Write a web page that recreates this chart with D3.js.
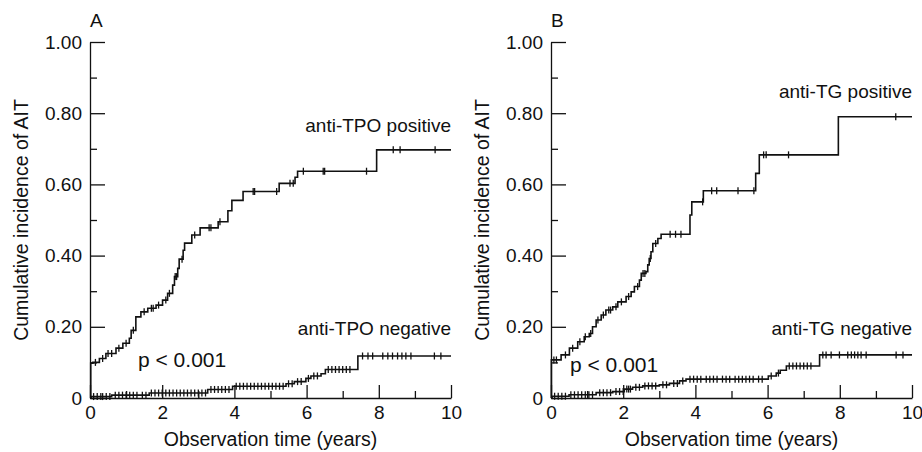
<!DOCTYPE html>
<html>
<head>
<meta charset="utf-8">
<style>
    body { margin: 0; background: #fff; }
    text { font-family: "Liberation Sans", Arial, sans-serif; fill: #111; }
    .axis .domain, .axis line { stroke: #111; stroke-width: 1.3; }
</style>
</head>
<body>
<svg width="922" height="452"></svg>
<script src="https://d3js.org/d3.v7.min.js"></script>
<script>
// ---- data ----
var yTicks = [0, 0.2, 0.4, 0.6, 0.8, 1.0];
var yTickLabels = ["0", "0.20", "0.40", "0.60", "0.80", "1.00"];
var yMinor = [0.1, 0.3, 0.5, 0.7, 0.9];
var xTicks = [0, 2, 4, 6, 8, 10];
var xMinor = [1, 3, 5, 7, 9];

// panel A: anti-TPO
var tpoPosT = [0, 0.02, 0.08, 0.26, 0.44, 0.72, 0.91, 1.09, 1.14, 1.27, 1.41, 1.60, 1.83, 2.01, 2.15, 2.29, 2.34, 2.43, 2.47, 2.58, 2.62, 2.82, 3.05, 3.55, 3.82, 3.93, 4.24, 5.24, 5.68, 5.75, 7.94, 10];
var tpoPosS = [0, 0.098, 0.10, 0.111, 0.125, 0.14, 0.154, 0.168, 0.19, 0.228, 0.242, 0.252, 0.261, 0.275, 0.294, 0.317, 0.341, 0.364, 0.39, 0.415, 0.435, 0.458, 0.478, 0.495, 0.526, 0.555, 0.58, 0.603, 0.62, 0.637, 0.697, 0.697];
var tpoPosCens = [0.15, 0.35, 0.5, 0.6, 0.8, 1.0, 1.2, 1.5, 1.7, 1.75, 1.9, 2.1, 2.2, 2.36, 2.4, 2.55, 2.9, 3.3, 3.35, 3.6, 4.52, 4.56, 5.17, 5.54, 5.63, 5.91, 6.46, 6.5, 7.66, 8.4, 8.59, 9.56];

var tpoNegT = [0, 0.03, 0.6, 1.64, 3.26, 3.95, 5.43, 5.66, 5.98, 6.12, 6.40, 6.52, 7.42, 10];
var tpoNegS = [0, 0.004, 0.008, 0.014, 0.024, 0.033, 0.04, 0.046, 0.055, 0.062, 0.068, 0.08, 0.118, 0.118];
var tpoNegCens = [0.1, 0.2, 0.3, 0.35, 0.45, 0.55, 0.7, 0.8, 0.9, 1.0, 1.1, 1.2, 1.3, 1.45, 1.55, 1.7, 1.8, 1.9, 2.0, 2.1, 2.2, 2.3, 2.4, 2.5, 2.6, 2.7, 2.8, 2.9, 3.0, 3.1, 3.2, 3.35, 3.45, 3.55, 3.65, 3.75, 3.85, 4.05, 4.15, 4.25, 4.35, 4.45, 4.55, 4.65, 4.75, 4.85, 4.95, 5.05, 5.15, 5.25, 5.35, 5.5, 5.6, 5.75, 5.85, 6.05, 6.2, 6.3, 6.6, 6.7, 6.8, 6.9, 7.0, 7.1, 7.2, 7.55, 7.7, 7.83, 8.11, 8.25, 8.38, 8.52, 8.64, 8.75, 8.89, 9.54, 9.72];

// panel B: anti-TG
var tgPosT = [0, 0.01, 0.28, 0.51, 0.74, 0.92, 1.06, 1.15, 1.25, 1.39, 1.52, 1.71, 1.85, 2.08, 2.22, 2.31, 2.45, 2.5, 2.63, 2.68, 2.72, 2.77, 2.82, 2.96, 3.05, 3.85, 3.9, 4.22, 5.67, 5.77, 7.96, 10];
var tgPosS = [0, 0.107, 0.121, 0.14, 0.158, 0.172, 0.181, 0.2, 0.219, 0.233, 0.247, 0.256, 0.27, 0.285, 0.298, 0.313, 0.331, 0.35, 0.355, 0.374, 0.392, 0.411, 0.434, 0.448, 0.46, 0.514, 0.551, 0.582, 0.631, 0.683, 0.79, 0.79];
var tgPosCens = [0.08, 0.15, 0.4, 0.6, 0.8, 0.95, 1.1, 1.3, 1.45, 1.6, 1.65, 1.8, 1.95, 2.15, 2.4, 2.55, 2.6, 2.75, 2.9, 3.3, 3.45, 3.6, 4.2, 4.45, 4.59, 5.18, 5.62, 5.89, 5.96, 6.58, 9.55];

var tgNegT = [0, 0.03, 0.5, 1.25, 1.71, 2.03, 2.26, 2.54, 3.0, 3.28, 3.56, 3.74, 6.02, 6.24, 6.35, 6.52, 7.44, 10];
var tgNegS = [0, 0.005, 0.009, 0.015, 0.018, 0.025, 0.03, 0.034, 0.037, 0.041, 0.048, 0.053, 0.062, 0.07, 0.078, 0.09, 0.121, 0.121];
var tgNegCens = [0.1, 0.2, 0.3, 0.4, 0.55, 0.65, 0.75, 0.85, 0.95, 1.05, 1.15, 1.35, 1.45, 1.55, 1.65, 1.8, 1.9, 2.0, 2.1, 2.15, 2.2, 2.35, 2.45, 2.6, 2.7, 2.8, 2.9, 3.1, 3.2, 3.4, 3.5, 3.65, 3.85, 3.95, 4.05, 4.15, 4.3, 4.4, 4.5, 4.6, 4.75, 4.85, 4.95, 5.1, 5.2, 5.3, 5.4, 5.5, 5.6, 5.75, 5.85, 6.1, 6.3, 6.6, 6.7, 6.8, 6.9, 7.0, 7.1, 7.2, 7.53, 7.62, 7.76, 7.99, 8.22, 8.32, 8.41, 8.5, 8.59, 8.73, 9.56, 9.75];

var panels = [
    { letter: "A", left: 90, pos: [tpoPosT, tpoPosS, tpoPosCens], neg: [tpoNegT, tpoNegS, tpoNegCens],
      posLabel: "anti-TPO positive", posLabelY: 132, negLabel: "anti-TPO negative", pX: 138, pY: 367 },
    { letter: "B", left: 551, pos: [tgPosT, tgPosS, tgPosCens], neg: [tgNegT, tgNegS, tgNegCens],
      posLabel: "anti-TG positive", posLabelY: 98, negLabel: "anti-TG negative", pX: 570, pY: 372 }
];

var svg = d3.select("svg"),
    top0 = 42,
    width = 361,
    height = 356;

var x = d3.scaleLinear().domain([0, 10]).range([0, width]);
var y = d3.scaleLinear().domain([0, 1]).range([height, 0]);

var line = d3.line()
    .curve(d3.curveStepAfter)
    .x(function(d) { return x(d[0]); })
    .y(function(d) { return y(d[1]); });

function drawCurve(g, c) {
    var ts = c[0], ss = c[1];
    var pts = ts.map(function(t, i) { return [t, ss[i]]; });
    g.append("path")
        .attr("d", line(pts))
        .attr("fill", "none")
        .attr("stroke", "#111")
        .attr("stroke-width", 1.6);
    // censoring marks
    g.selectAll(null)
        .data(c[2])
        .enter().append("line")
        .attr("x1", function(d) { return x(d); })
        .attr("x2", function(d) { return x(d); })
        .attr("y1", function(d) { return y(ss[d3.bisectRight(ts, d) - 1]) - 3.5; })
        .attr("y2", function(d) { return y(ss[d3.bisectRight(ts, d) - 1]) + 3.5; })
        .attr("stroke", "#111")
        .attr("stroke-width", 1.3);
}

panels.forEach(function(p) {
    var g = svg.append("g").attr("transform", "translate(" + p.left + "," + top0 + ")");

    // y axis, ticks point inward
    g.append("g")
        .attr("class", "axis")
        .call(d3.axisLeft(y).tickValues(yTicks).tickSizeInner(-15).tickSizeOuter(0).tickPadding(8)
            .tickFormat(function(d, i) { return yTickLabels[i]; }))
        .selectAll("text").attr("font-size", 19).style("font-family", null);
    g.append("g")
        .attr("class", "axis")
        .call(d3.axisLeft(y).tickValues(yMinor).tickSizeInner(-7).tickSizeOuter(0).tickFormat(""))
        .select(".domain").remove();

    // x axis, ticks point upward
    g.append("g")
        .attr("class", "axis")
        .attr("transform", "translate(0," + height + ")")
        .call(d3.axisBottom(x).tickValues(xTicks).tickSizeInner(-13).tickSizeOuter(0).tickPadding(8))
        .selectAll("text").attr("font-size", 19);
    g.append("g")
        .attr("class", "axis")
        .attr("transform", "translate(0," + height + ")")
        .call(d3.axisBottom(x).tickValues(xMinor).tickSizeInner(-7).tickSizeOuter(0).tickFormat(""))
        .select(".domain").remove();

    g.selectAll(".axis text").attr("fill", "#111").attr("font-family", null);

    drawCurve(g, p.pos);
    drawCurve(g, p.neg);

    g.append("text")
        .attr("x", 0).attr("y", 27 - top0)
        .attr("font-size", 19)
        .text(p.letter);

    g.append("text")
        .attr("transform", "translate(-62," + height / 2 + ") rotate(-90)")
        .attr("text-anchor", "middle")
        .attr("font-size", 19.5)
        .text("Cumulative incidence of AIT");

    g.append("text")
        .attr("x", width / 2).attr("y", 446 - top0)
        .attr("text-anchor", "middle")
        .attr("font-size", 19.5)
        .text("Observation time (years)");

    g.append("text")
        .attr("x", width).attr("y", p.posLabelY - top0)
        .attr("text-anchor", "end")
        .attr("font-size", 19)
        .text(p.posLabel);

    g.append("text")
        .attr("x", width).attr("y", 335 - top0)
        .attr("text-anchor", "end")
        .attr("font-size", 19)
        .text(p.negLabel);

    g.append("text")
        .attr("x", p.pX - p.left).attr("y", p.pY - top0)
        .attr("font-size", 21)
        .text("p < 0.001");
});
</script>
</body>
</html>
